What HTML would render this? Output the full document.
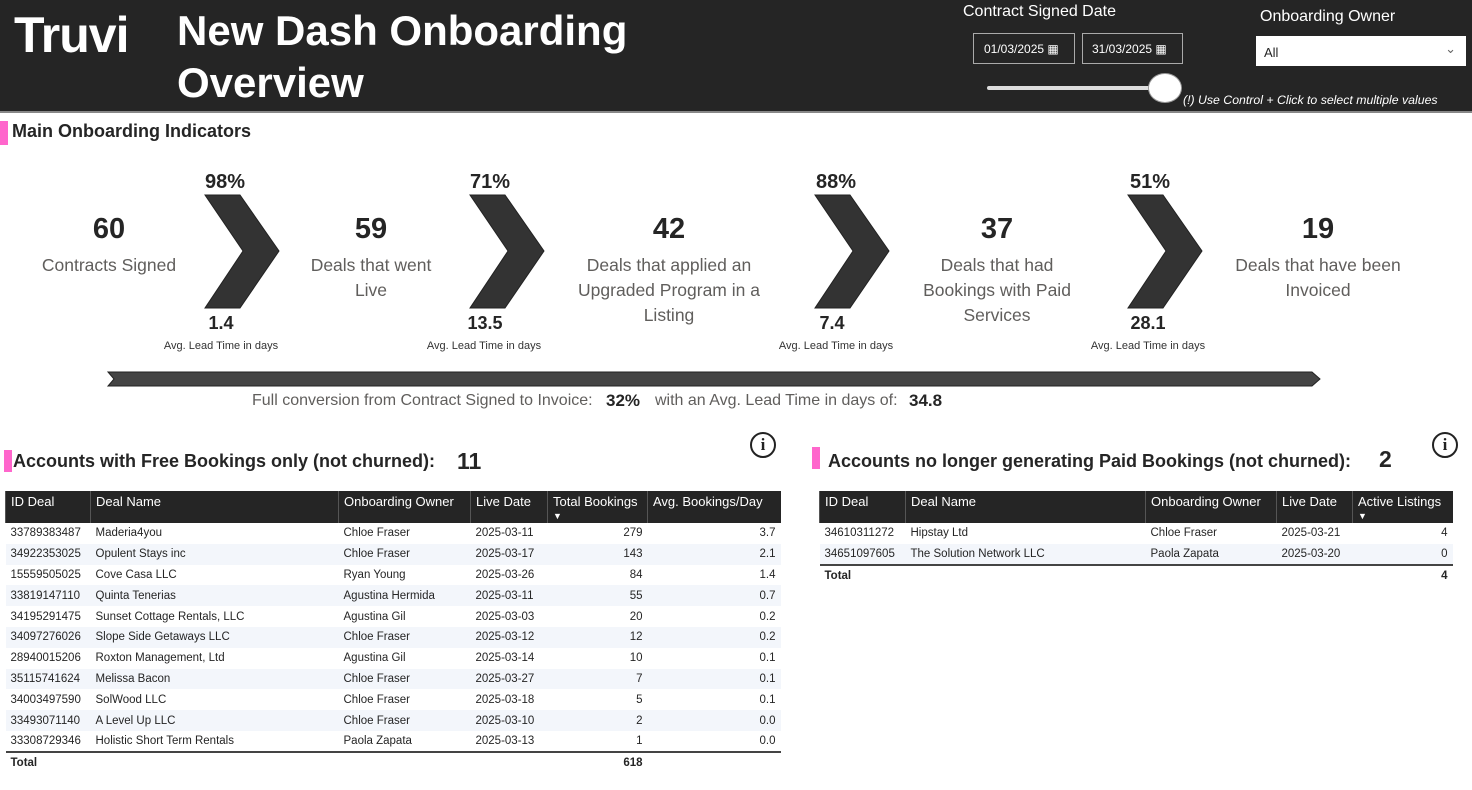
<!DOCTYPE html>
<html><head><meta charset="utf-8"><style>
*{margin:0;padding:0;box-sizing:border-box}
body{width:1472px;height:790px;background:#fff;font-family:"Liberation Sans",sans-serif;position:relative;overflow:hidden;color:#222}
.a{position:absolute;white-space:nowrap}
.c{position:absolute;text-align:center;transform:translateX(-50%);white-space:nowrap}
.hdr{position:absolute;left:0;top:0;width:1472px;height:113px;background:#252525;border-bottom:2px solid #888}
.num{font-size:29px;font-weight:bold;color:#252525}
.lbl{font-size:17.5px;color:#605e5c;line-height:25px}
.pct{font-size:20px;font-weight:bold;color:#252525}
.lt{font-size:18px;font-weight:bold;color:#252525}
.sm{font-size:11px;color:#333}
table{position:absolute;border-collapse:collapse;font-size:11.5px;table-layout:fixed}
th{background:#252525;color:#fff;font-weight:normal;text-align:left;font-size:13px;height:29px;line-height:13px;vertical-align:top;padding:4px 5px 0;border-left:1px solid #555;overflow:hidden}
td{height:20.8px;padding:0 5px;color:#252525;white-space:nowrap;overflow:hidden}
tbody tr:nth-child(even) td{background:#f3f6fb}
tbody tr.tot td{font-weight:bold;border-top:2px solid #444;height:22px;background:#fff}
.r{text-align:right}
.bar{position:absolute;width:8px;background:#ff66cc}
.sec{font-size:18px;font-weight:bold;color:#252525}
.info{position:absolute;width:26px;height:26px;border:2.5px solid #222;border-radius:50%;text-align:center;font:bold 17px/21px "Liberation Serif",serif;color:#222}
</style></head><body>
<div class="hdr"></div>
<div class="a" style="left:14px;top:6px;font-size:50px;font-weight:bold;color:#fff;letter-spacing:-1px">Truvi</div>
<div class="a" style="left:177px;top:5px;font-size:42px;font-weight:bold;color:#fff;line-height:52px">New Dash Onboarding<br>Overview</div>
<div class="a" style="left:963px;top:3px;font-size:16px;color:#fff">Contract Signed Date</div>
<div class="a" style="left:973px;top:33px;width:102px;height:31px;border:1px solid #aaa;color:#fff;font-size:12px;padding:8px 0 0 10px">01/03/2025 &#9638;</div>
<div class="a" style="left:1082px;top:33px;width:101px;height:31px;border:1px solid #aaa;color:#fff;font-size:12px;padding:8px 0 0 9px">31/03/2025 &#9638;</div>
<div class="a" style="left:987px;top:86px;width:165px;height:4px;background:#ddd;border-radius:2px"></div>
<div class="a" style="left:1148px;top:73px;width:34px;height:30px;background:#fff;border-radius:50%;border:1px solid #999"></div>
<div class="a" style="left:1260px;top:8px;font-size:16px;color:#fff">Onboarding Owner</div>
<div class="a" style="left:1256px;top:36px;width:210px;height:30px;background:#fff;font-size:13px;padding:9px 0 0 8px;color:#252525">All<span style="position:absolute;right:10px;top:5px;color:#666">&#8964;</span></div>
<div class="a" style="left:1183px;top:93px;font-size:12.3px;font-style:italic;color:#fff">(!) Use Control + Click to select multiple values</div>

<div class="bar" style="left:0;top:121px;height:24px"></div>
<div class="a sec" style="left:12px;top:121px">Main Onboarding Indicators</div>

<svg class="a" style="left:0;top:0" width="1472" height="420">
<g fill="#333" stroke="#222">
<polygon points="205,195 240,195 279,251 240,308 205,308 243,251"/>
<polygon points="470,195 505,195 544,251 505,308 470,308 508,251"/>
<polygon points="815,195 850,195 889,251 850,308 815,308 853,251"/>
<polygon points="1128,195 1163,195 1202,251 1163,308 1128,308 1166,251"/>
</g>
<polygon points="108,372 1312,372 1320,379 1312,386 108,386 114,379" fill="#444" stroke="#222"/>
</svg>

<div class="c num" style="left:109px;top:213px">60</div>
<div class="c lbl" style="left:109px;top:253px">Contracts Signed</div>
<div class="c num" style="left:371px;top:213px">59</div>
<div class="c lbl" style="left:371px;top:253px">Deals that went<br>Live</div>
<div class="c num" style="left:669px;top:213px">42</div>
<div class="c lbl" style="left:669px;top:253px">Deals that applied an<br>Upgraded Program in a<br>Listing</div>
<div class="c num" style="left:997px;top:213px">37</div>
<div class="c lbl" style="left:997px;top:253px">Deals that had<br>Bookings with Paid<br>Services</div>
<div class="c num" style="left:1318px;top:213px">19</div>
<div class="c lbl" style="left:1318px;top:253px">Deals that have been<br>Invoiced</div>

<div class="c pct" style="left:225px;top:171px">98%</div>
<div class="c pct" style="left:490px;top:171px">71%</div>
<div class="c pct" style="left:836px;top:171px">88%</div>
<div class="c pct" style="left:1150px;top:171px">51%</div>
<div class="c lt" style="left:221px;top:313px">1.4</div>
<div class="c lt" style="left:485px;top:313px">13.5</div>
<div class="c lt" style="left:832px;top:313px">7.4</div>
<div class="c lt" style="left:1148px;top:313px">28.1</div>
<div class="c sm" style="left:221px;top:340px">Avg. Lead Time in days</div>
<div class="c sm" style="left:484px;top:340px">Avg. Lead Time in days</div>
<div class="c sm" style="left:836px;top:340px">Avg. Lead Time in days</div>
<div class="c sm" style="left:1148px;top:340px">Avg. Lead Time in days</div>

<div class="a" style="left:252px;top:392px;font-size:16px;color:#605e5c">Full conversion from Contract Signed to Invoice:</div>
<div class="a" style="left:606px;top:391px;font-size:17px;font-weight:bold;color:#252525">32%</div>
<div class="a" style="left:655px;top:392px;font-size:16px;color:#605e5c">with an Avg. Lead Time in days of:</div>
<div class="a" style="left:909px;top:391px;font-size:17px;font-weight:bold;color:#252525">34.8</div>

<div class="bar" style="left:4px;top:450px;height:22px"></div>
<div class="a sec" style="left:13px;top:451px">Accounts with Free Bookings only (not churned):</div>
<div class="a" style="left:457px;top:448px;font-size:23px;font-weight:bold;color:#252525">11</div>
<div class="info" style="left:750px;top:432px">i</div>

<div class="bar" style="left:812px;top:447px;height:22px"></div>
<div class="a sec" style="left:828px;top:451px">Accounts no longer generating Paid Bookings (not churned):</div>
<div class="a" style="left:1379px;top:446px;font-size:23px;font-weight:bold;color:#252525">2</div>
<div class="info" style="left:1432px;top:432px">i</div>

<table style="left:5px;top:491px;width:775px">
<colgroup><col style="width:85px"><col style="width:248px"><col style="width:132px"><col style="width:77px"><col style="width:100px"><col style="width:133px"></colgroup>
<thead><tr><th>ID Deal</th><th>Deal Name</th><th>Onboarding Owner</th><th>Live Date</th><th>Total Bookings<br><span style="font-size:9px">&#9660;</span></th><th>Avg. Bookings/Day</th></tr></thead>
<tbody>
<tr><td>33789383487</td><td>Maderia4you</td><td>Chloe Fraser</td><td>2025-03-11</td><td class="r">279</td><td class="r">3.7</td></tr>
<tr><td>34922353025</td><td>Opulent Stays inc</td><td>Chloe Fraser</td><td>2025-03-17</td><td class="r">143</td><td class="r">2.1</td></tr>
<tr><td>15559505025</td><td>Cove Casa LLC</td><td>Ryan Young</td><td>2025-03-26</td><td class="r">84</td><td class="r">1.4</td></tr>
<tr><td>33819147110</td><td>Quinta Tenerias</td><td>Agustina Hermida</td><td>2025-03-11</td><td class="r">55</td><td class="r">0.7</td></tr>
<tr><td>34195291475</td><td>Sunset Cottage Rentals, LLC</td><td>Agustina Gil</td><td>2025-03-03</td><td class="r">20</td><td class="r">0.2</td></tr>
<tr><td>34097276026</td><td>Slope Side Getaways LLC</td><td>Chloe Fraser</td><td>2025-03-12</td><td class="r">12</td><td class="r">0.2</td></tr>
<tr><td>28940015206</td><td>Roxton Management, Ltd</td><td>Agustina Gil</td><td>2025-03-14</td><td class="r">10</td><td class="r">0.1</td></tr>
<tr><td>35115741624</td><td>Melissa Bacon</td><td>Chloe Fraser</td><td>2025-03-27</td><td class="r">7</td><td class="r">0.1</td></tr>
<tr><td>34003497590</td><td>SolWood LLC</td><td>Chloe Fraser</td><td>2025-03-18</td><td class="r">5</td><td class="r">0.1</td></tr>
<tr><td>33493071140</td><td>A Level Up LLC</td><td>Chloe Fraser</td><td>2025-03-10</td><td class="r">2</td><td class="r">0.0</td></tr>
<tr><td>33308729346</td><td>Holistic Short Term Rentals</td><td>Paola Zapata</td><td>2025-03-13</td><td class="r">1</td><td class="r">0.0</td></tr>
<tr class="tot"><td>Total</td><td></td><td></td><td></td><td class="r">618</td><td></td></tr>
</tbody></table>

<table style="left:819px;top:491px;width:633px">
<colgroup><col style="width:86px"><col style="width:240px"><col style="width:131px"><col style="width:76px"><col style="width:100px"></colgroup>
<thead><tr><th>ID Deal</th><th>Deal Name</th><th>Onboarding Owner</th><th>Live Date</th><th>Active Listings<br><span style="font-size:9px">&#9660;</span></th></tr></thead>
<tbody>
<tr><td>34610311272</td><td>Hipstay Ltd</td><td>Chloe Fraser</td><td>2025-03-21</td><td class="r">4</td></tr>
<tr><td>34651097605</td><td>The Solution Network LLC</td><td>Paola Zapata</td><td>2025-03-20</td><td class="r">0</td></tr>
<tr class="tot"><td>Total</td><td></td><td></td><td></td><td class="r">4</td></tr>
</tbody></table>
</body></html>
